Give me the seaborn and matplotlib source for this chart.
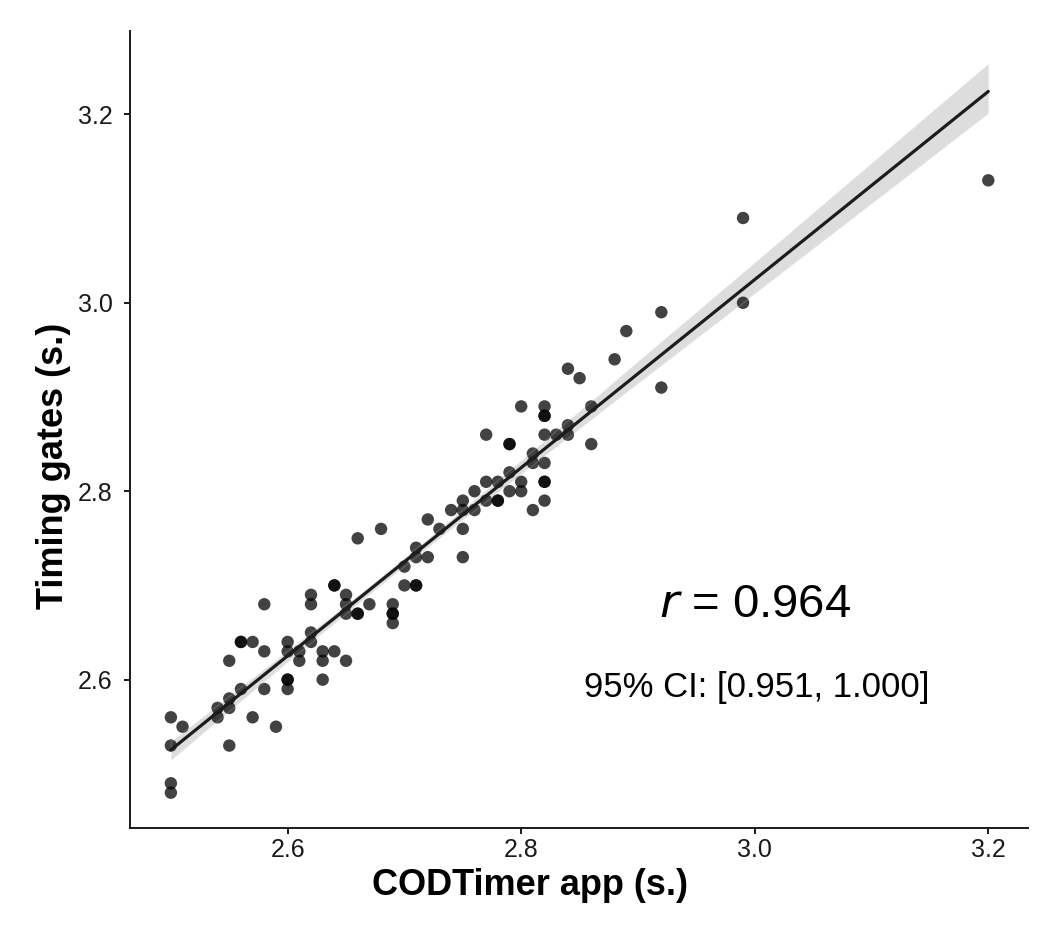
import matplotlib
matplotlib.use("Agg")
import matplotlib.pyplot as plt
import seaborn as sns
import pandas as pd

# CODTimer app (s.) values
codtimer_app = [
    2.50, 2.51, 2.50, 2.50, 2.50, 2.54, 2.54, 2.55, 2.55, 2.55,
    2.55, 2.56, 2.56, 2.56, 2.57, 2.57, 2.58, 2.58, 2.58, 2.59,
    2.60, 2.60, 2.60, 2.60, 2.60, 2.61, 2.61, 2.62, 2.62, 2.62,
    2.62, 2.63, 2.63, 2.63, 2.64, 2.64, 2.64, 2.65, 2.65, 2.65,
    2.65, 2.66, 2.66, 2.66, 2.67, 2.68, 2.69, 2.69, 2.69, 2.69,
    2.70, 2.70, 2.71, 2.71, 2.71, 2.71, 2.72, 2.72, 2.73, 2.74,
    2.75, 2.75, 2.75, 2.75, 2.76, 2.76, 2.77, 2.77, 2.77, 2.78,
    2.78, 2.78, 2.79, 2.79, 2.79, 2.79, 2.80, 2.80, 2.80, 2.81,
    2.81, 2.81, 2.82, 2.82, 2.82, 2.82, 2.82, 2.82, 2.82, 2.82,
    2.83, 2.84, 2.84, 2.84, 2.85, 2.86, 2.86, 2.88, 2.89, 2.92,
    2.92, 2.99, 2.99, 3.20,
]
# Timing gates (s.) values
timing_gates = [
    2.56, 2.55, 2.53, 2.49, 2.48, 2.57, 2.56, 2.58, 2.57, 2.53,
    2.62, 2.64, 2.64, 2.59, 2.64, 2.56, 2.68, 2.63, 2.59, 2.55,
    2.64, 2.63, 2.60, 2.60, 2.59, 2.63, 2.62, 2.69, 2.68, 2.65,
    2.64, 2.63, 2.62, 2.60, 2.70, 2.70, 2.63, 2.69, 2.68, 2.67,
    2.62, 2.75, 2.67, 2.67, 2.68, 2.76, 2.68, 2.67, 2.67, 2.66,
    2.72, 2.70, 2.74, 2.73, 2.70, 2.70, 2.77, 2.73, 2.76, 2.78,
    2.79, 2.78, 2.76, 2.73, 2.80, 2.78, 2.86, 2.81, 2.79, 2.81,
    2.79, 2.79, 2.85, 2.85, 2.82, 2.80, 2.89, 2.81, 2.80, 2.84,
    2.83, 2.78, 2.89, 2.88, 2.88, 2.86, 2.83, 2.81, 2.81, 2.79,
    2.86, 2.87, 2.86, 2.93, 2.92, 2.89, 2.85, 2.94, 2.97, 2.99,
    2.91, 3.09, 3.00, 3.13,
]

x_ticks = [2.6, 2.8, 3.0, 3.2]
y_ticks = [2.6, 2.8, 3.0, 3.2]
x_tick_labels = ["2.6", "2.8", "3.0", "3.2"]
y_tick_labels = ["2.6", "2.8", "3.0", "3.2"]

r_text = "0.964"
ci_text = "95% CI: [0.951, 1.000]"

df = pd.DataFrame({"app": codtimer_app, "gates": timing_gates})

sns.set_theme(style="ticks")
plt.rcParams["font.family"] = ["Liberation Sans", "DejaVu Sans"]

fig = plt.figure(figsize=(10.6, 9.48), dpi=100)
ax = fig.add_axes([130 / 1060, 1 - 828 / 948, (1028 - 130) / 1060, (828 - 31) / 948])

sns.regplot(
    data=df, x="app", y="gates", ax=ax, color="black", ci=80, n_boot=1000, seed=3,
    scatter_kws=dict(s=80, alpha=0.74, edgecolor="none", linewidths=0),
    line_kws=dict(color="#1c1c1c", linewidth=2.3),
)

ax.set_xlim(2.465, 3.234)
ax.set_ylim(2.4425, 3.2885)
ax.set_xticks(x_ticks)
ax.set_xticklabels(x_tick_labels)
ax.set_yticks(y_ticks)
ax.set_yticklabels(y_tick_labels)

for side in ["top", "right"]:
    ax.spines[side].set_visible(False)
for side in ["left", "bottom"]:
    ax.spines[side].set_linewidth(1.4)
    ax.spines[side].set_color("#1a1a1a")

ax.tick_params(axis="both", length=4.5, width=1.4, color="#1a1a1a",
               labelsize=18, labelcolor="#1a1a1a")
ax.tick_params(axis="x", pad=3)
ax.tick_params(axis="y", pad=8)

ax.set_xlabel("CODTimer app (s.)", fontsize=26, fontweight="bold", labelpad=4, color="black")
ax.set_ylabel("Timing gates (s.)", fontsize=26, fontweight="bold", labelpad=5, color="black")
ax.xaxis.label.set_x(0.445)
ax.yaxis.label.set_y(0.454)

ax.text(0.696, 0.280, r"$\it{r}$" + " = " + r_text, transform=ax.transAxes,
        ha="center", va="center", fontsize=34, color="black")
ax.text(0.698, 0.176, ci_text, transform=ax.transAxes,
        ha="center", va="center", fontsize=25, color="black")

fig.savefig("out.png", dpi=100)
